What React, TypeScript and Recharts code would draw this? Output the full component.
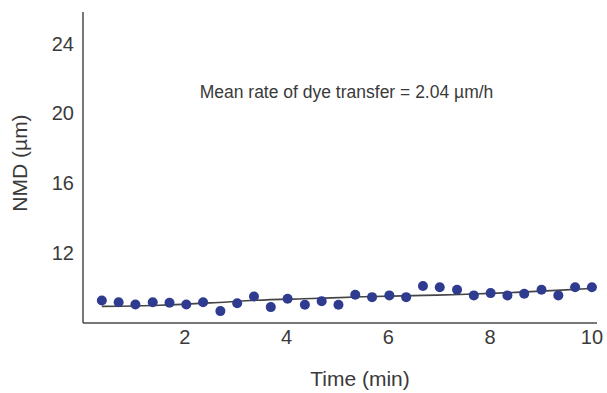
import React from 'react';
import { ComposedChart, Scatter, Line, XAxis, YAxis } from 'recharts';

// NMD measurements every ~20 s
const times = [
  0.37, 0.7, 1.03, 1.37, 1.7, 2.03, 2.36, 2.7, 3.03, 3.36,
  3.69, 4.02, 4.36, 4.69, 5.02, 5.35, 5.68, 6.02, 6.35, 6.68,
  7.01, 7.35, 7.68, 8.01, 8.34, 8.67, 9.01, 9.34, 9.67, 10.0,
];
const nmd = [
  9.29, 9.19, 9.06, 9.19, 9.16, 9.06, 9.19, 8.68, 9.13, 9.52,
  8.91, 9.39, 9.04, 9.25, 9.04, 9.62, 9.48, 9.58, 9.48, 10.12,
  10.05, 9.9, 9.58, 9.71, 9.58, 9.67, 9.9, 9.58, 10.05, 10.05,
];

// fitted curve
const fitTimes = [0.37, 1.5, 2.5, 3.4, 4.5, 5.5, 6.7, 7.4, 8.5, 9.4, 10.0];
const fitNmd = [8.95, 9.02, 9.15, 9.3, 9.4, 9.5, 9.58, 9.63, 9.75, 9.88, 9.98];

const xTicks = [2, 4, 6, 8, 10];
const yTicks = [12, 16, 20, 24];

const points = times.map((t, i) => ({ x: t, y: nmd[i] }));
const fit = fitTimes.map((t, i) => ({ x: t, y: fitNmd[i] }));

const font = '"Liberation Sans", Arial, sans-serif';
const textColor = '#3a3a3a';
const axisColor = '#4a4a4a';

export default function App() {
  return (
    <div style={{ position: 'absolute', left: 0, top: 0, width: 607, height: 393, background: '#fff', fontFamily: font }}>
      <ComposedChart width={607} height={393} margin={{ top: 12, right: 10, left: 0, bottom: 0 }}>
        <XAxis
          type="number"
          dataKey="x"
          domain={[0, 10.1]}
          ticks={xTicks}
          allowDataOverflow
          height={70}
          stroke={axisColor}
          strokeWidth={1.5}
          tickLine={false}
          tickSize={0}
          tickMargin={7}
          tick={{ fill: textColor, fontSize: 20, fontFamily: font }}
        />
        <YAxis
          type="number"
          dataKey="y"
          domain={[8, 25.8]}
          ticks={yTicks}
          allowDataOverflow
          width={83}
          stroke={axisColor}
          strokeWidth={1.5}
          tickLine={false}
          tickSize={0}
          tickMargin={9}
          tick={{ fill: textColor, fontSize: 20, fontFamily: font }}
        />
        <Line
          data={fit}
          dataKey="y"
          type="monotone"
          stroke="#444"
          strokeWidth={1.6}
          dot={false}
          isAnimationActive={false}
        />
        <Scatter data={points} dataKey="y" fill="#2e3b8f" shape={(p: any) => <circle cx={p.cx} cy={p.cy} r={5} fill="#2e3b8f" />} isAnimationActive={false} />
      </ComposedChart>
      <div style={{ position: 'absolute', left: 0, width: 693, top: 81, textAlign: 'center', fontSize: 17.5, color: textColor, lineHeight: '22px' }}>
        Mean rate of dye transfer = 2.04 µm/h
      </div>
      <div style={{ position: 'absolute', left: 260, width: 200, top: 367, textAlign: 'center', fontSize: 21, color: textColor, lineHeight: '24px' }}>
        Time (min)
      </div>
      <div style={{ position: 'absolute', left: -80, width: 200, top: 151, textAlign: 'center', fontSize: 21, color: textColor, lineHeight: '24px', transform: 'rotate(-90deg)' }}>
        NMD  (µm)
      </div>
    </div>
  );
}
